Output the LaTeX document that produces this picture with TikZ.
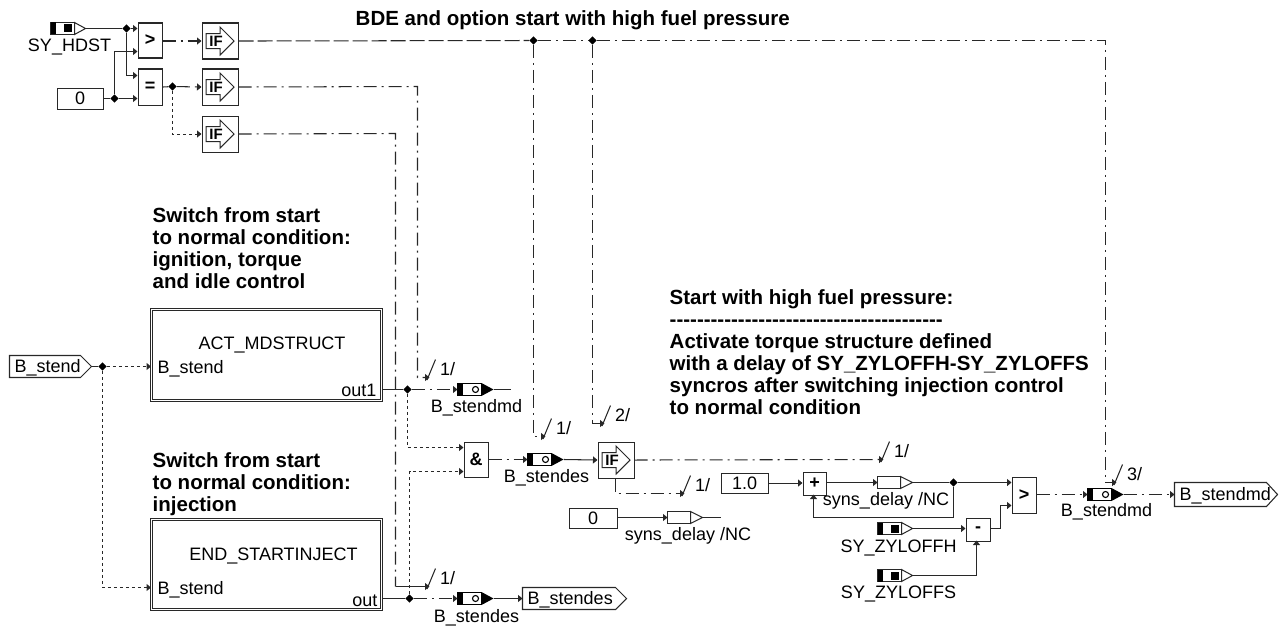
\documentclass[tikz,border=0pt]{standalone}
\usepackage{fontspec}
\setmainfont{Liberation Sans}
\usetikzlibrary{arrows.meta,shapes.geometric,calc}
\definecolor{wc}{HTML}{282828}
\newcommand\hy{-\kern0pt}
\tikzset{
  wire/.style={draw=wc,line width=1.05pt},
  tip/.style={-{Triangle[length=4.5pt,width=7pt]}},
  dd/.style={dash pattern=on 13pt off 5pt on 2pt off 5pt},
  ld/.style={dash pattern=on 15pt off 4pt},
  sd/.style={dash pattern=on 3pt off 3pt},
  junc/.style={diamond,fill=black,draw=none,inner sep=0pt,minimum width=8.5pt,minimum height=8.5pt},
  opbox/.style={draw=wc,line width=1.05pt,fill=white,inner sep=0pt,anchor=north west,font=\fontsize{18}{18}\selectfont},
  lbl/.style={inner sep=0pt,anchor=base,font=\fontsize{18}{18}\selectfont},
  lbll/.style={lbl,anchor=base west},
  lblr/.style={lbl,anchor=base east},
  head/.style={inner sep=0pt,anchor=base west,font=\bfseries\fontsize{20.5}{22}\selectfont},
  dbl/.style={draw=wc,double=white,double distance=1.6pt,line width=1.1pt,inner sep=0pt,anchor=north west},
  ghost/.style={inner sep=0pt,anchor=west,minimum height=12pt},
}
% #1 name #2 x1 #3 y1 #4 x2 #5 y2 #6 text
\newcommand\opblk[6]{\node[opbox,minimum width={#4-#2},minimum height={#5-#3},text depth=0pt] (#1) at (#2,#3) {#6};}
% IF block: name, x, ytop
\newcommand\ifblk[3]{%
  \node[opbox,minimum width=36,minimum height=36] (#1) at (#2,#3) {};
  \draw[draw=wc,line width=1pt,fill=white] ($(#1.center)+(-14,-7.5)$) -- ++(14,0) -- ++(0,-6.5) -- ++(14,14) -- ++(-14,14) -- ++(0,-6.5) -- ++(-14,0) -- cycle;
  \node[inner sep=0pt,font=\bfseries\fontsize{15}{15}\selectfont] at ($(#1.center)+(-4,0)$) {IF};
}
% system-constant source: name, x (left), y (centre)
\newcommand\sysblk[3]{%
  \node[ghost,minimum width=35] (#1) at (#2,#3) {};
  \draw[draw=wc,line width=1pt,fill=white] (#2+24,#3-6) -- (#2+35,#3) -- (#2+24,#3+6) -- cycle;
  \draw[draw=wc,line width=1pt,fill=white] (#2,#3-6) rectangle (#2+24,#3+6);
  \fill[black] (#2,#3-6) rectangle (#2+5,#3+6);
  \fill[black] (#2+13,#3-4) rectangle (#2+21,#3+4);
}
% not-connected message: name, x, y
\newcommand\ncblk[3]{%
  \node[ghost,minimum width=35] (#1) at (#2,#3) {};
  \draw[draw=wc,line width=1pt,fill=white] (#2+23,#3-6) -- (#2+35,#3) -- (#2+23,#3+6) -- cycle;
  \draw[draw=wc,line width=1pt,fill=white] (#2,#3-6) rectangle (#2+23,#3+6);
}
% stored message: name, x, y
\newcommand\msgblk[3]{%
  \node[ghost,minimum width=36] (#1) at (#2,#3) {};
  \fill[black] (#2+24,#3-6.5) -- (#2+36,#3) -- (#2+24,#3+6.5) -- cycle;
  \draw[black,line width=1.2pt,fill=white] (#2,#3-6) rectangle (#2+24,#3+6);
  \fill[black] (#2,#3-6.5) rectangle (#2+5,#3+6.5);
  \draw[black,line width=1.1pt] (#2+18,#3) circle[radius=3pt];
}
% port: name, x1, x2, ycentre, text, halfheight
\newcommand\portblk[6]{%
  \draw[draw=wc,line width=1.05pt,fill=white] (#2,#4-#6) -- (#3-11,#4-#6) -- (#3,#4) -- (#3-11,#4+#6) -- (#2,#4+#6) -- cycle;
  \node[inner sep=0pt,anchor=west,minimum width={#3-#2},minimum height={2*#6}] (#1) at (#2,#4) {};
  \node[lbll] at (#2+5,#4+6) {#5};
}
% bus mark: name, tip x, tip y, text
\newcommand\busmark[4]{%
  \coordinate (#1) at (#2,#3);
  \coordinate (#1a) at (#2-2.5,#3+2.5);
  \coordinate (#1b) at (#2+6,#3-18);
  \draw[wire] (#1a) -- (#1b);
  \node[lbll] (#1t) at (#2+10.5,#3-2.5) {#4};
}
\begin{document}
\begin{tikzpicture}[x=1pt,y=-1pt]
\useasboundingbox (0,0) rectangle (1279,626);
\fill[white] (0,0) rectangle (1279,626);
\begin{scope}[shift={(-0.5,-0.5)}]

% headings
\node[head] (h1) at (356,26) {BDE and option start with high fuel pressure};
\node[head] (h2) at (153,223) {Switch from start};
\node[head] (h2b) at (153,245) {to normal condition:};
\node[head] (h2c) at (153,267) {ignition, torque};
\node[head] (h2d) at (153,289) {and idle control};
\node[head] (h3) at (153,468) {Switch from start};
\node[head] (h3b) at (153,490) {to normal condition:};
\node[head] (h3c) at (153,512) {injection};
\node[head] (h4) at (670,305) {Start with high fuel pressure:};
\node[head] (h4b) at (670,327) {\hy\hy\hy\hy\hy\hy\hy\hy\hy\hy\hy\hy\hy\hy\hy\hy\hy\hy\hy\hy\hy\hy\hy\hy\hy\hy\hy\hy\hy\hy\hy\hy\hy\hy\hy\hy\hy\hy\hy\hy};
\node[head] (h4c) at (670,349) {Activate torque structure defined};
\node[head] (h4d) at (670,371) {with a delay of SY\_ZYLOFFH-SY\_ZYLOFFS};
\node[head] (h4e) at (670,393) {syncros after switching injection control};
\node[head] (h4f) at (670,415) {to normal condition};

% blocks
\sysblk{hdst}{51}{29}
\node[lbl] (hdstl) at (70,52) {SY\_HDST};
\opblk{zero}{57}{88}{103}{109}{0}
\opblk{gt}{138}{23}{162}{58}{\bfseries >}
\opblk{eq}{138}{69}{162}{105}{\bfseries =}
\ifblk{ifa}{202}{23}
\ifblk{ifb}{202}{69}
\ifblk{ifc}{202}{116}

\node[dbl,minimum width=230,minimum height=91] (act) at (151.5,309.5) {};
\node[lbl] (actl) at (272.5,350) {ACT\_MDSTRUCT};
\node[lbll] (actp) at (158,374) {B\_stend};
\node[lblr] (acto) at (377,397) {out1};
\node[dbl,minimum width=230,minimum height=90] (endb) at (151.5,519.5) {};
\node[lbl] (endl) at (274,561) {END\_STARTINJECT};
\node[lbll] (endp) at (158,595) {B\_stend};
\node[lblr] (endo) at (378,607) {out};

\portblk{bstend}{10}{92}{367}{B\_stend}{11}
\portblk{bstdes}{523}{627}{599}{B\_stendes}{11}
\portblk{bstmd}{1175}{1278}{495}{B\_stendmd}{12}

\msgblk{ma}{458}{390}
\node[lbl] (mal) at (477,413) {B\_stendmd};
\msgblk{mb}{528}{460}
\node[lbl] (mbl) at (547,483) {B\_stendes};
\msgblk{mc}{458}{599}
\node[lbl] (mcl) at (477,623) {B\_stendes};
\msgblk{md}{1088}{495}
\node[lbl] (mdl) at (1107,517) {B\_stendmd};

\opblk{andb}{464}{442}{488}{477}{\bfseries \&}
\ifblk{ifd}{598}{442}
\opblk{one}{721}{473}{768}{493}{1.0}
\opblk{plus}{803}{472}{826}{495}{\bfseries +}
\ncblk{nca}{878}{483}
\node[lbl] (ncal) at (886.5,506) {syns\_delay /NC};
\opblk{zerob}{569}{508}{617}{528}{0}
\ncblk{ncb}{668}{518}
\node[lbl] (ncbl) at (688.5,541) {syns\_delay /NC};
\sysblk{offh}{878}{529}
\node[lbl] (offhl) at (899,553) {SY\_ZYLOFFH};
\sysblk{offs}{878}{576}
\node[lbl] (offsl) at (899,599) {SY\_ZYLOFFS};
\opblk{minus}{966}{518}{990}{541}{\bfseries -}
\opblk{gtb}{1012}{477}{1036}{513}{\bfseries >}

% junctions
\node[junc] (j1) at (127,29) {};
\node[junc] (j2) at (115,99) {};
\node[junc] (j3) at (173,87) {};
\node[junc] (j4) at (534,41) {};
\node[junc] (j5) at (593,41) {};
\node[junc] (j6) at (103,367) {};
\node[junc] (j7) at (408,390) {};
\node[junc] (j8) at (410,599) {};
\node[junc] (j9) at (954,483) {};

% bus marks
\busmark{ba}{430}{378}{1/}
\busmark{bb}{430}{587}{1/}
\busmark{bc}{546}{437}{1/}
\busmark{bd}{605}{424}{2/}
\busmark{be}{884}{460}{1/}
\busmark{bf}{685}{494}{1/}
\busmark{bg}{1117}{483}{3/}

% input section
\draw[wire] (hdst.east) -- (j1);
\draw[wire,line width=1.8pt] (104,29) -- (j1);
\draw[wire,tip] (j1) -- (gt.west |- j1);
\draw[wire,tip] (j1) -- (j1 |- 0,76) -- (eq.west |- 0,76);
\draw[wire] (zero.east |- j2) -- (j2);
\draw[wire,tip] (j2) -- (eq.west |- j2);
\draw[wire,tip] (j2) -- (j2 |- 0,52) -- (gt.west |- 0,52);
\draw[wire,dd,tip] (gt.east |- ifa) -- (ifa.west);
\draw[wire,dd] (eq.east |- ifb) -- (j3);
\draw[wire,dd,tip] (j3) -- (ifb.west);
\draw[wire,sd,tip] (j3) -- (j3 |- ifc) -- (ifc.west);

% IF outputs
\draw[wire,ld] (ifa.east) -- (j4);
\draw[wire,dd] (j4) -- (j5);
\draw[wire,dd,tip] (j5) -- (1106,41) -- (1106,483) -- (bg);
\draw[wire,dd,tip] (j4) -- (j4 |- bc) -- (bc);
\draw[wire,dd,tip] (j5) -- (j5 |- bd) -- (bd);
\draw[wire,dd,tip] (ifb.east) -- (418,87) -- (418,378) -- (ba);
\draw[wire,dd] (ifc.east) -- (396,134) -- (396,587);
\draw[wire,tip] (396,587) -- (bb);

% B_stend input
\draw[wire] (bstend.east) -- (j6);
\draw[wire,sd,tip] (j6) -- (act.west |- j6);
\draw[wire,sd,tip] (j6) -- (103,588) -- (endb.west |- 0,588);

% out1
\draw[wire] (act.east |- j7) -- (j7);
\draw[wire,dd,tip] (j7) -- (ma.west);
\draw[wire] (ma.east) -- (511,390);
\draw[wire,sd,tip] (j7) -- (408,448) -- (andb.west |- 0,448);

% out
\draw[wire] (endb.east |- j8) -- (j8);
\draw[wire,dd,tip] (j8) -- (mc.west);
\draw[wire,tip] (mc.east) -- (bstdes.west);
\draw[wire,sd,tip] (j8) -- (410,472) -- (andb.west |- 0,472);

% and -> IF
\draw[wire,dd,tip] (andb.east |- mb) -- (mb.west);
\draw[wire,tip] (mb.east) -- (ifd.west);
\draw[wire,dd,tip] (ifd.east) -- (be);
\draw[wire,dd,tip] (ifd.south -| 616,0) -- (616,494) -- (bf);

% delay section
\draw[wire,tip] (one.east) -- (plus.west |- one);
\draw[wire,tip] (plus.east |- nca) -- (nca.west);
\draw[wire] (nca.east) -- (j9);
\draw[wire,tip] (j9) -- (gtb.west |- j9);
\draw[wire,tip] (j9) -- (954,518) -- (814,518) -- (814,495);
\draw[wire,tip] (zerob.east |- ncb) -- (ncb.west);
\draw[wire] (ncb.east) -- (721,518);
\draw[wire,tip] (offh.east) -- (minus.west |- offh);
\draw[wire,tip] (offs.east) -- (977,576) -- (977,541);
\draw[wire,tip] (minus.east |- 0,529) -- (1001,529) -- (1001,506) -- (gtb.west |- 0,506);
\draw[wire,dd,tip] (gtb.east |- md) -- (md.west);
\draw[wire,dd,tip] (md.east) -- (bstmd.west);
\end{scope}
\end{tikzpicture}
\end{document}
